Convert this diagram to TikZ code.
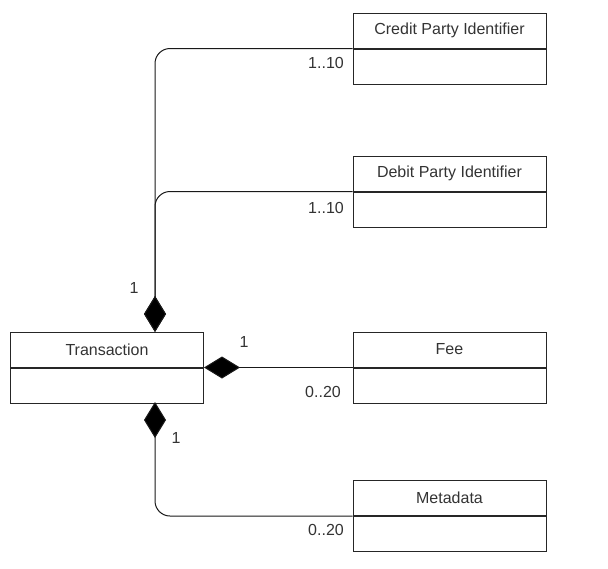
\documentclass[tikz,border=0pt]{standalone}
\usepackage{fontspec}
\setmainfont{Liberation Sans}
\usepackage{tikz}
\usetikzlibrary{arrows.meta,positioning}
\definecolor{umltext}{HTML}{333333}
\tikzset{
  every node/.style={
    font=\fontsize{16}{19}\selectfont,
    text=umltext
  },
  classhead/.style={
    shape=rectangle,
    draw=black!85,
    line width=1pt,
    minimum width=193pt,
    minimum height=35pt,
    inner sep=0pt
  },
  classbody/.style={
    classhead,
    below=0pt of #1
  },
  composition/.style={
    draw=black!90,
    line width=1pt,
    {Diamond[length=36pt,width=22pt,fill=black]}-
  },
  mult/.style={
    inner sep=0pt
  }
}

\begin{document}
\begin{tikzpicture}[x=1pt,y=-1pt]
\useasboundingbox (0,0) rectangle (608,568);

% classes
\node [classhead] (credithead) at (449.5,30.5) {Credit Party Identifier};
\node [classbody=credithead] (creditbody) {};
\node [classhead] (debithead) at (449.5,173.5) {Debit Party Identifier};
\node [classbody=debithead] (debitbody) {};
\node [classhead] (transhead) at (107,349.5) {Transaction};
\node [classbody=transhead] (transbody) {};
\node [classhead] (feehead) at (449.5,349.5) {Fee};
\node [classbody=feehead] (feebody) {};
\node [classhead] (metahead) at (449.5,498) {Metadata};
\node [classbody=metahead] (metabody) {};

\coordinate (transtop) at (155,332);
\coordinate (transbottom) at (155,402);

% compositions
\draw [composition,rounded corners=15pt] (transtop) |- (credithead.south west);
\draw [composition,rounded corners=15pt] (transtop) |- (debithead.south west);
\draw [composition] (transbody.north east) -- (feehead.south west);
\draw [composition,rounded corners=15pt] (transbottom) |- (metahead.south west);

% multiplicities
\node [mult] (mcredit) at (326,63) {1..10};
\node [mult] (mdebit) at (326,208) {1..10};
\node [mult] (mtop) at (134,288) {1};
\node [mult] (mfee) at (244,342) {1};
\node [mult] (mfeemany) at (323,392) {0..20};
\node [mult] (mbottom) at (176,438) {1};
\node [mult] (mmeta) at (326,530) {0..20};

\end{tikzpicture}
\end{document}
